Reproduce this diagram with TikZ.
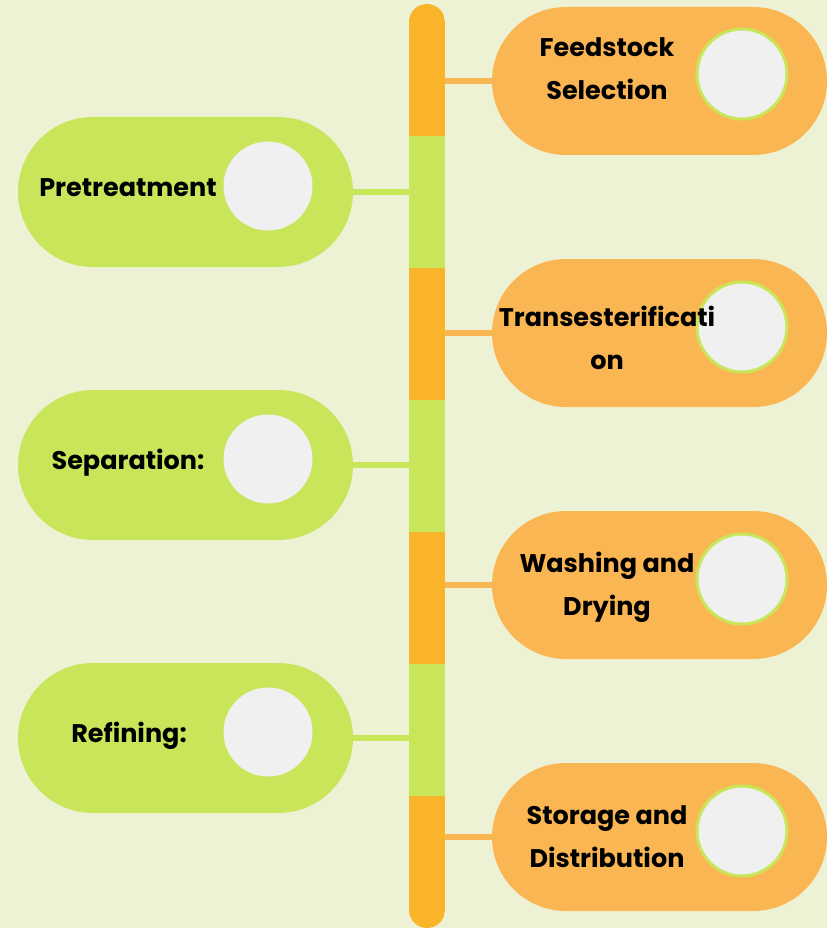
\documentclass[tikz,border=0pt]{standalone}
\usepackage{fontspec}
\setmainfont{Poppins}
\definecolor{bgc}{HTML}{EEF2D5}
\definecolor{pillO}{HTML}{FBB654}
\definecolor{barO}{HTML}{F9B429}
\definecolor{grn}{HTML}{C9E55A}
\definecolor{circ}{HTML}{F0F0F0}
\begin{document}
\begin{tikzpicture}[x=1pt,y=-1pt,
  pillR/.style={fill=pillO, rounded corners=74pt, minimum width=335pt, minimum height=148pt, inner sep=0pt},
  pillL/.style={fill=grn, rounded corners=75pt, minimum width=335pt, minimum height=150pt, inner sep=0pt},
  circR/.style={circle, fill=circ, draw=grn, line width=3pt, minimum size=90pt, inner sep=0pt},
  circL/.style={circle, fill=circ, minimum size=89pt, inner sep=0pt},
  seg/.style={minimum width=36pt, minimum height=132pt, inner sep=0pt},
  connR/.style={draw=pillO, line width=6pt},
  connL/.style={draw=grn, line width=6pt},
  lbl/.style={font=\bfseries\fontsize{25.5}{43}\selectfont, align=center, text=black, inner sep=0pt}]
\fill[bgc] (0,0) rectangle (827,928);
\useasboundingbox (0,0) rectangle (827,928);
% bar
\begin{scope}
\clip[rounded corners=18pt] (409,4) rectangle (445,928);
\node[seg, fill=barO] (s1) at (427,70) {};
\node[seg, fill=grn] (s2) at (427,202) {};
\node[seg, fill=barO] (s3) at (427,334) {};
\node[seg, fill=grn] (s4) at (427,466) {};
\node[seg, fill=barO] (s5) at (427,598) {};
\node[seg, fill=grn] (s6) at (427,730) {};
\node[seg, fill=barO] (s7) at (427,862) {};
\end{scope}
% right pills
\node[pillR] (r1) at (659.5,81) {};
\node[pillR] (r2) at (659.5,333) {};
\node[pillR] (r3) at (659.5,585) {};
\node[pillR] (r4) at (659.5,837) {};
% left pills
\node[pillL] (l1) at (185.5,192) {};
\node[pillL] (l2) at (185.5,465) {};
\node[pillL] (l3) at (185.5,738) {};
% connectors
\draw[connR] (r1.west -| s1.east) -- (r1.west);
\draw[connR] (r2.west -| s3.east) -- (r2.west);
\draw[connR] (r3.west -| s5.east) -- (r3.west);
\draw[connR] (r4.west -| s7.east) -- (r4.west);
\draw[connL] (l1.east) -- (l1.east -| s2.west);
\draw[connL] (l2.east) -- (l2.east -| s4.west);
\draw[connL] (l3.east) -- (l3.east -| s6.west);
% circles
\node[circR] (cr1) at (742,74) {};
\node[circR] (cr2) at (742,327) {};
\node[circR] (cr3) at (742,579) {};
\node[circR] (cr4) at (742,831) {};
\node[circL] (cl1) at (268,186) {};
\node[circL] (cl2) at (268,459) {};
\node[circL] (cl3) at (268,732) {};
% labels
\node[lbl] (t1) at (607,68.5) {Feedstock\\Selection};
\node[lbl] (t2) at (607,337.5) {Transesterificati\\on};
\node[lbl] (t3) at (607,587) {Washing and\\Drying};
\node[lbl] (t4) at (607,837) {Storage and\\Distribution};
\node[lbl] (u1) at (128,188) {Pretreatment};
\node[lbl] (u2) at (128,463) {Separation:};
\node[lbl] (u3) at (129,736) {Refining:};
\end{tikzpicture}
\end{document}
